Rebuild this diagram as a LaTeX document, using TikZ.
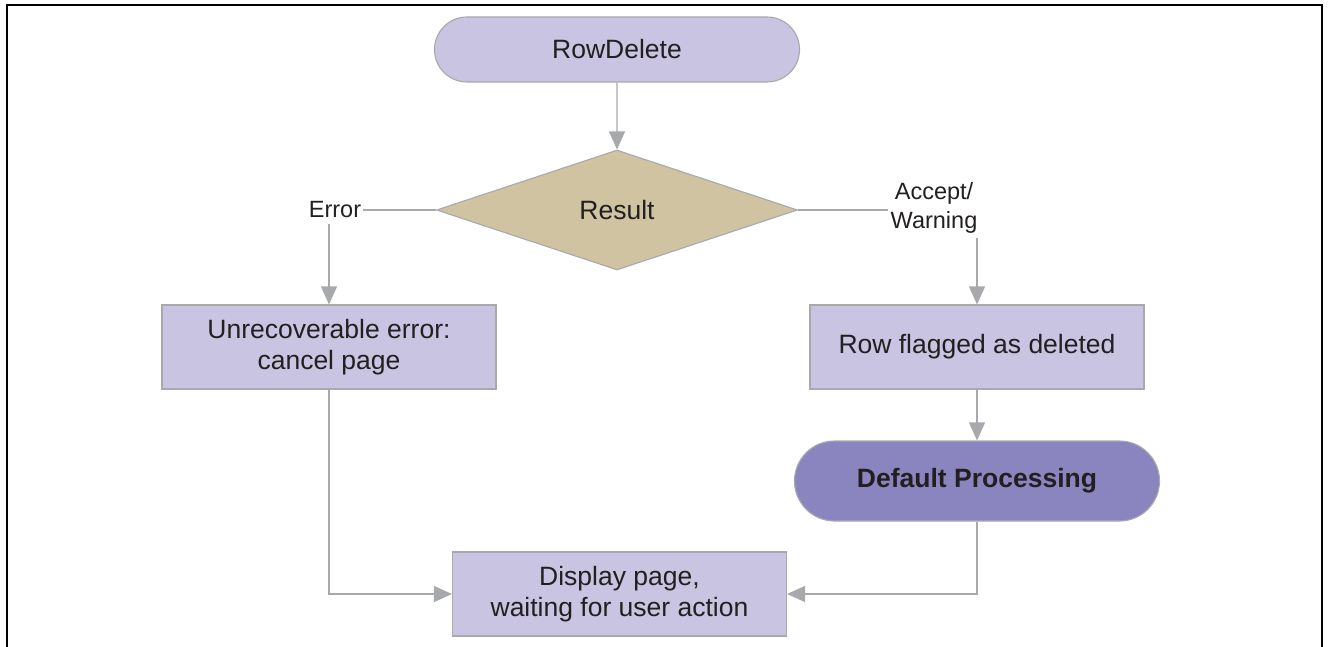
\documentclass[tikz,border=0pt]{standalone}
\usepackage{fontspec}
\setmainfont{Liberation Sans}
\usetikzlibrary{shapes.geometric,shapes.misc,arrows.meta}

\definecolor{boxfill}{HTML}{C8C4E1}
\definecolor{procfill}{HTML}{8A85BF}
\definecolor{decfill}{HTML}{CFC3A1}
\definecolor{edge}{HTML}{A7A9AC}
\definecolor{ink}{HTML}{231F20}

\tikzset{
  base/.style={draw=edge, line width=1.1pt, text=ink, font=\fontsize{26.5}{31}\selectfont, align=center, inner sep=0pt},
  terminal/.style={base, rounded rectangle, fill=boxfill, minimum width=365pt, minimum height=65pt},
  process/.style={base, rectangle, fill=boxfill, minimum width=334pt, minimum height=84pt},
  defproc/.style={base, rounded rectangle, fill=procfill, minimum width=365pt, minimum height=80pt, font=\fontsize{26.5}{31}\selectfont\bfseries},
  decision/.style={base, diamond, fill=decfill, minimum width=361pt, minimum height=120pt},
  edgelabel/.style={text=ink, font=\fontsize{23.5}{29.5}\selectfont, align=center, inner sep=2pt},
  link/.style={draw=edge, line width=1.3pt},
  arr/.style={link, -{Triangle[length=18pt,width=16pt]}, shorten >=0pt}
}

\begin{document}
\begin{tikzpicture}[x=1pt,y=-1pt]
  \useasboundingbox (0,0) rectangle (1329,647);

  % frame
  \draw[line width=2.6pt] (7,648) -- (7,5) -- (1322,5) -- (1322,648);

  % nodes
  \node[terminal] (start) at (617,49.5) {RowDelete};
  \node[decision] (res) at (617,210) {Result};
  \node[edgelabel] (err) at (335,210) {Error};
  \node[edgelabel] (acc) at (934,208) {Accept/\\Warning};
  \node[process] (unrec) at (329,347) {Unrecoverable error:\\cancel page};
  \node[process] (flag) at (977,347) {Row flagged as deleted};
  \node[defproc] (def) at (977,481) {Default Processing};
  \node[process] (disp) at (619.5,594) {Display page,\\waiting for user action};

  % connectors
  \draw[arr] (start) -- (res);
  \draw[link] (res.west) -- (err.east);
  \draw[arr] (unrec.north |- err.south) ++(0,4) -- (unrec.north);
  \draw[link] (res.east) -- (acc.west |- res.east);
  \draw[arr] (flag.north |- acc.south) ++(0,2) -- (flag.north);
  \draw[arr] (flag) -- (def);
  \draw[arr] (unrec.south) |- (disp.west);
  \draw[arr] (def.south) |- (disp.east);
\end{tikzpicture}
\end{document}
